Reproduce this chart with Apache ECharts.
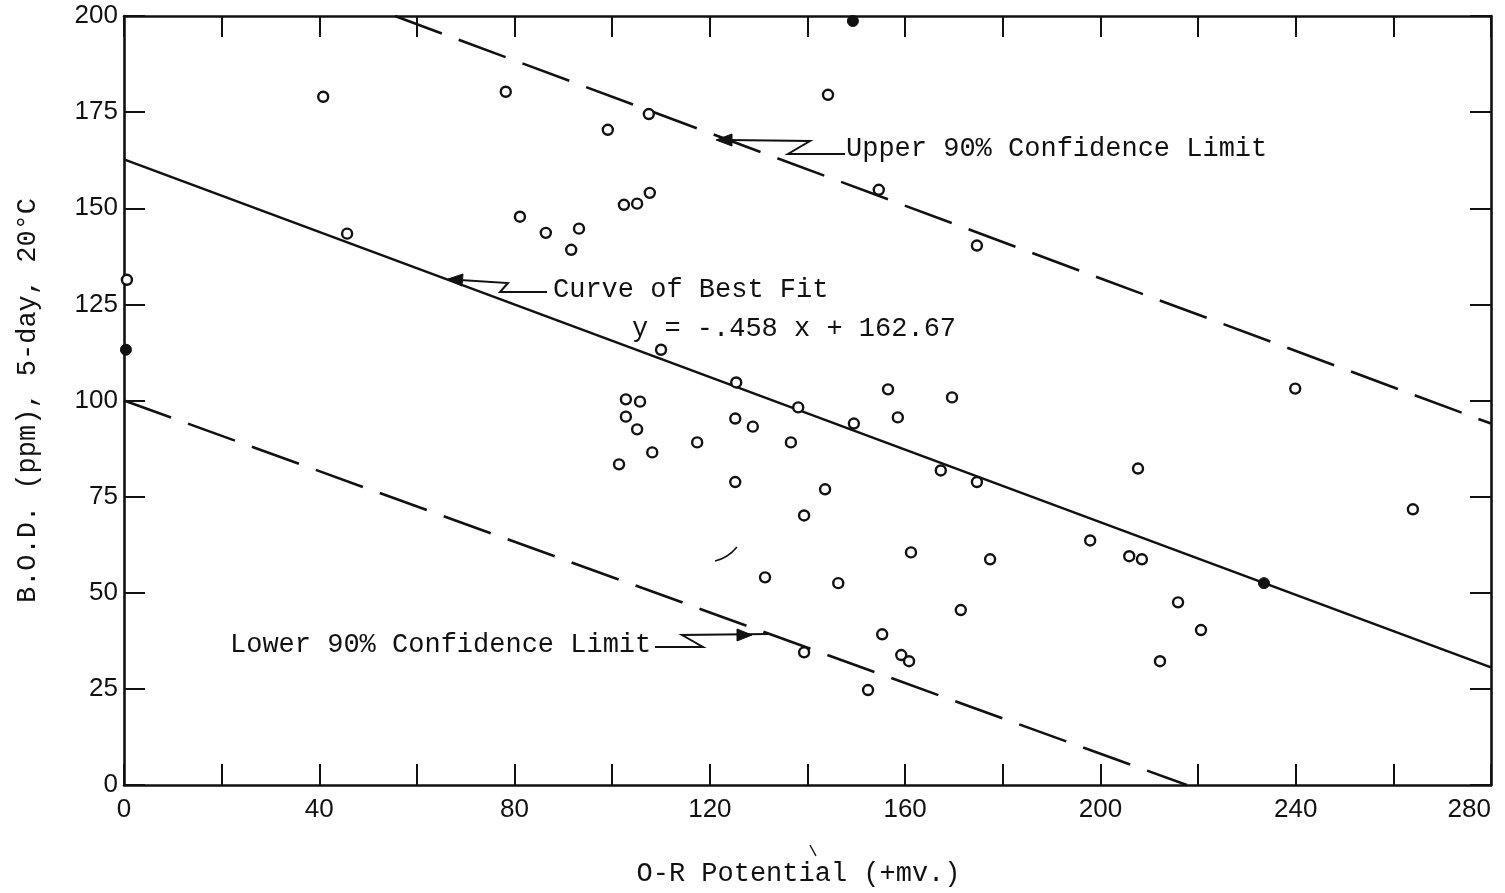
<!DOCTYPE html>
<html>
<head>
<meta charset="utf-8">
<script src="https://cdn.jsdelivr.net/npm/echarts@6/dist/echarts.min.js"></script>
<style>
  html, body { margin: 0; padding: 0; background: #fff; }
  #chart { width: 1505px; height: 893px; }
</style>
</head>
<body>
<div id="chart"></div>
<script>
// ---- data ----
const orpOpen = [0.6, 40.8, 45.7, 78.2, 81.1, 86.4, 91.6, 93.2, 99.1, 102.4, 105.1, 107.7, 107.5, 144.2, 154.6, 174.7,
  110.0, 125.4, 102.8, 105.7, 102.8, 105.1, 108.2, 101.4, 117.4, 125.2, 128.8, 138.1, 136.6, 149.5, 156.5, 158.5, 169.6,
  125.2, 143.6, 139.3, 167.3, 174.7, 161.2, 177.4, 131.3, 146.3, 197.9, 205.9, 208.5, 207.7, 239.9, 264.0,
  215.9, 220.6, 212.2, 171.4, 139.3, 155.3, 159.2, 160.8, 152.4];
const bodOpen = [131.4, 179.0, 143.4, 180.3, 147.8, 143.6, 139.2, 144.7, 170.4, 150.9, 151.2, 154.0, 174.5, 179.5, 154.8, 140.3,
  113.2, 104.7, 100.3, 99.7, 95.8, 92.5, 86.5, 83.4, 89.1, 95.3, 93.2, 98.2, 89.1, 94.0, 102.9, 95.6, 100.8,
  78.8, 76.9, 70.1, 81.8, 78.8, 60.5, 58.7, 54.0, 52.5, 63.6, 59.5, 58.7, 82.3, 103.1, 71.7,
  47.5, 40.3, 32.2, 45.5, 34.5, 39.2, 33.8, 32.2, 24.7];
const orpFilled = [0.4, 149.3, 233.5];
const bodFilled = [113.2, 198.7, 52.5];

const fitX = [0, 280];
const fitY = [162.7, 30.6];
const upperX = [55.5, 280];
const upperY = [200, 94];
const lowerX = [0, 217.7];
const lowerY = [100, 0];

const xTickLabels = [0, 40, 80, 120, 160, 200, 240, 280];
const yTickLabels = [0, 25, 50, 75, 100, 125, 150, 175, 200];

const xTitle = 'O-R Potential (+mv.)';
const yTitle = 'B.O.D. (ppm), 5-day, 20°C';
const upperText = 'Upper 90% Confidence Limit';
const fitText = 'Curve of Best Fit';
const eqText = 'y = -.458 x + 162.67';
const lowerText = 'Lower 90% Confidence Limit';

// ---- build ----
const zip = (a, b) => a.map((v, i) => [v, b[i]]);
const INK = '#111';
const MONO = '"Liberation Mono", "DejaVu Sans Mono", monospace';
const SANS = '"Liberation Sans", Arial, sans-serif';

const axisLine = { show: true, onZero: false, lineStyle: { color: INK, width: 2.6 } };
const axisTick = { show: true, inside: true, length: 21, lineStyle: { color: INK, width: 2 } };

const chart = echarts.init(document.getElementById('chart'), null, { renderer: 'canvas' });

function txt(text, x, y, align) {
  return { type: 'text', x: x, y: y, z: 50,
    style: { text: text, fill: INK, font: '27px ' + MONO, align: align || 'left', verticalAlign: 'middle' } };
}
function poly(points, w) {
  return { type: 'polyline', z: 50, shape: { points: points }, style: { stroke: INK, lineWidth: w || 2, fill: null } };
}
function head(points) {
  return { type: 'polygon', z: 50, shape: { points: points }, style: { fill: INK, stroke: INK, lineWidth: 1 } };
}

const option = {
  animation: false,
  backgroundColor: '#fff',
  grid: { left: 124, right: 14, top: 16, bottom: 108, containLabel: false },
  xAxis: [
    { type: 'value', position: 'bottom', min: 0, max: 280, interval: 20,
      axisLine: axisLine, axisTick: axisTick, splitLine: { show: false },
      axisLabel: { color: INK, fontFamily: SANS, fontSize: 26, margin: 12, alignMaxLabel: 'right',
        formatter: v => xTickLabels.indexOf(v) >= 0 ? String(v) : '' },
      name: xTitle, nameLocation: 'middle', nameGap: 75,
      nameTextStyle: { color: INK, fontFamily: MONO, fontSize: 27, padding: [0, 18, 0, 0] } },
    { type: 'value', position: 'top', min: 0, max: 280, interval: 20,
      axisLine: axisLine, axisTick: axisTick, splitLine: { show: false }, axisLabel: { show: false } }
  ],
  yAxis: [
    { type: 'value', position: 'left', min: 0, max: 200, interval: 25,
      axisLine: axisLine, axisTick: axisTick, splitLine: { show: false },
      axisLabel: { color: INK, fontFamily: SANS, fontSize: 26, margin: 6,
        formatter: v => yTickLabels.indexOf(v) >= 0 ? String(v) : '' },
      name: yTitle, nameLocation: 'middle', nameGap: 83, nameRotate: 90,
      nameTextStyle: { color: INK, fontFamily: MONO, fontSize: 27 } },
    { type: 'value', position: 'right', min: 0, max: 200, interval: 25,
      axisLine: axisLine, axisTick: axisTick, splitLine: { show: false }, axisLabel: { show: false } }
  ],
  series: [
    { name: 'Curve of Best Fit', type: 'line', data: zip(fitX, fitY), symbol: 'none', z: 2,
      lineStyle: { color: INK, width: 2.5 } },
    { name: 'Upper 90% Confidence Limit', type: 'line', data: zip(upperX, upperY), symbol: 'none', z: 2,
      lineStyle: { color: INK, width: 2.6, type: [50, 18] } },
    { name: 'Lower 90% Confidence Limit', type: 'line', data: zip(lowerX, lowerY), symbol: 'none', z: 2,
      lineStyle: { color: INK, width: 2.6, type: [50, 18] } },
    { name: 'Observations', type: 'scatter', data: zip(orpOpen, bodOpen), symbol: 'circle', symbolSize: 10,
      clip: false, z: 5, itemStyle: { color: '#fff', borderColor: INK, borderWidth: 2.4, opacity: 1 } },
    { name: 'Observations (filled)', type: 'scatter', data: zip(orpFilled, bodFilled), symbol: 'circle', symbolSize: 11,
      clip: false, z: 5, itemStyle: { color: INK, borderColor: INK, borderWidth: 1, opacity: 1 } }
  ],
  graphic: [
    txt(upperText, 846, 149),
    txt(fitText, 553, 290),
    txt(eqText, 632, 329),
    txt(lowerText, 230, 645),
    // upper leader
    poly([[845, 154], [788, 154], [810, 141], [728, 140]]),
    head([[716, 140], [732, 134], [732, 146]]),
    // best-fit leader
    poly([[547, 292], [500, 292], [508, 283], [460, 280]]),
    head([[448, 279], [463, 274], [462, 286]]),
    // lower leader
    poly([[655, 647], [703, 647], [682, 635], [768, 634]]),
    head([[752, 635], [737, 629], [737, 641]]),
    // stray marks on the original sheet
    { type: 'bezierCurve', z: 50, shape: { x1: 715, y1: 561, x2: 737, y2: 547, cpx1: 728, cpy1: 558 },
      style: { stroke: INK, lineWidth: 1.6, fill: null } },
    poly([[810, 845], [816, 856]], 1.4)
  ]
};
chart.setOption(option);
</script>
</body>
</html>
